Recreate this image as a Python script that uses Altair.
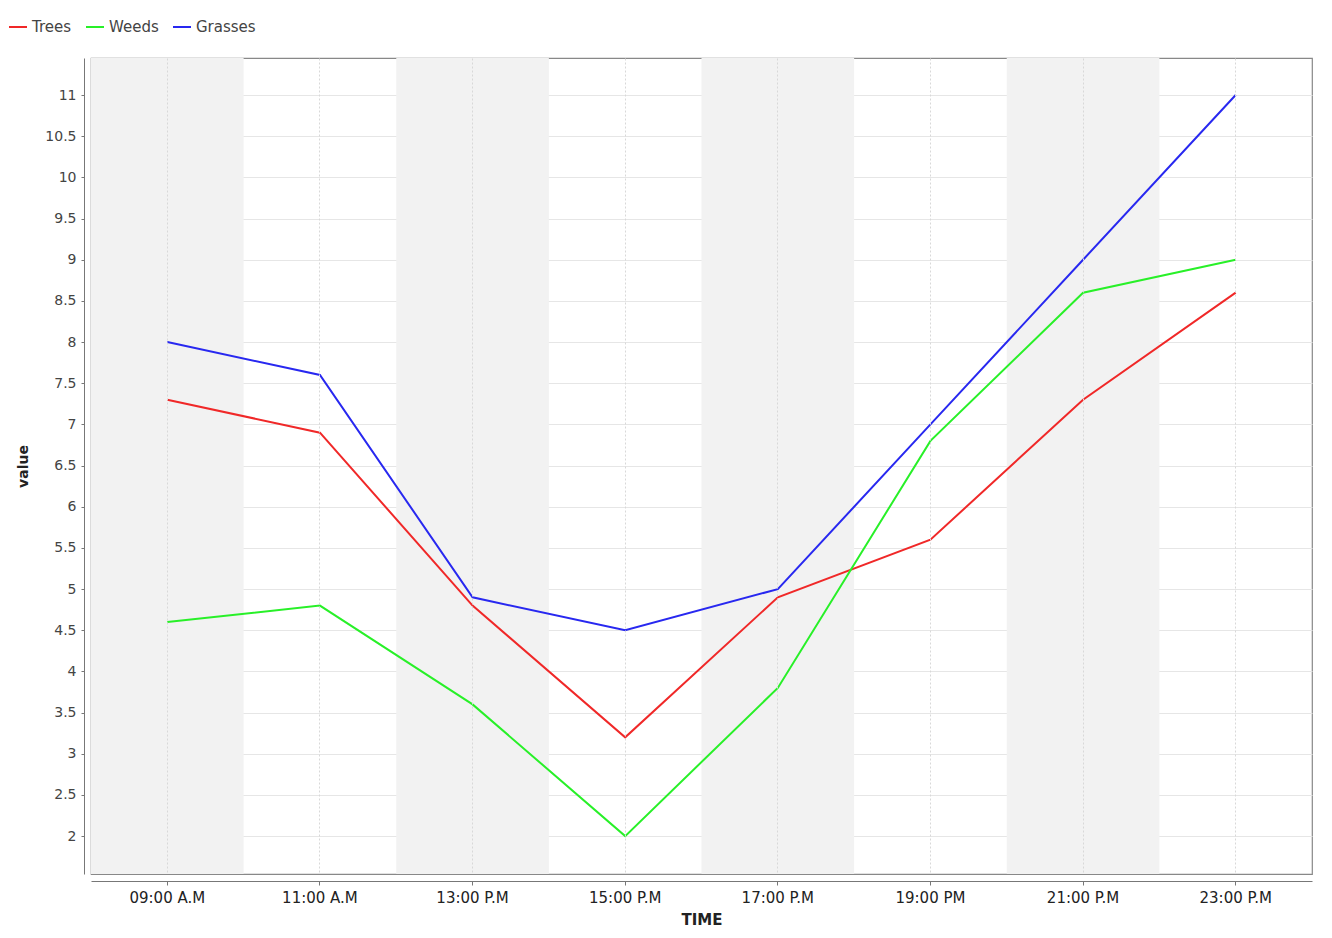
import altair as alt
import pandas as pd

times = ["09:00 A.M", "11:00 A.M", "13:00 P.M", "15:00 P.M", "17:00 P.M", "19:00 PM", "21:00 P.M", "23:00 P.M"]
trees = [7.3, 6.9, 4.8, 3.2, 4.9, 5.6, 7.3, 8.6]
weeds = [4.6, 4.8, 3.6, 2.0, 3.8, 6.8, 8.6, 9.0]
grasses = [8.0, 7.6, 4.9, 4.5, 5.0, 7.0, 9.0, 11.0]
series = ["Trees", "Weeds", "Grasses"]
colors = ["#f02828", "#28f028", "#2828f0"]
shaded = [times[i] for i in (0, 2, 4, 6)]

rows = []
for name, vals in zip(series, [trees, weeds, grasses]):
    for t, v in zip(times, vals):
        rows.append({"TIME": t, "value": v, "series": name})
df = pd.DataFrame(rows)
bands = pd.DataFrame({"TIME": shaded})

W, H = 1221, 816
FONT = "DejaVu Sans"

xscale = alt.Scale(domain=times, paddingInner=0, paddingOuter=0)
yscale = alt.Scale(domain=[1.54, 11.45], nice=False, zero=False)

x_axis = alt.Axis(title="TIME", labelAngle=0, labelAlign="center",
                  labelBaseline="top", grid=True, gridDash=[2, 2],
                  gridColor="#d8d8d8", offset=7, tickSize=4,
                  domainColor="#777", tickColor="#777",
                  labelFontSize=15, labelColor="#222", labelPadding=5,
                  titleFontSize=15, titleFontWeight="bold", titlePadding=7,
                  titleColor="#222")

bg = alt.Chart(bands).mark_rect(color="#f2f2f2").encode(
    x=alt.X("TIME:N", scale=xscale, sort=times, axis=x_axis),
    y=alt.value(0),
    y2=alt.value(H),
)

lines = alt.Chart(df).mark_line(strokeWidth=2, clip=True).encode(
    x=alt.X("TIME:N", scale=xscale, sort=times, axis=x_axis),
    y=alt.Y("value:Q", scale=yscale,
            axis=alt.Axis(title="value", values=[2 + 0.5 * i for i in range(19)],
                          format="~g",
                          grid=True, gridColor="#e6e6e6", offset=7, tickSize=3,
                          domainColor="#777", tickColor="#777",
                          labelFontSize=14, labelColor="#444", labelPadding=5,
                          titleFontSize=14, titleFontWeight="bold", titlePadding=14,
                          titleColor="#222")),
    color=alt.Color("series:N", sort=series,
                    scale=alt.Scale(domain=series, range=colors),
                    legend=alt.Legend(title=None, orient="none", direction="horizontal",
                                      legendX=-83, legendY=-41, symbolType="stroke",
                                      symbolSize=324, symbolStrokeWidth=2,
                                      labelFontSize=15, labelColor="#444",
                                      labelOffset=4, columnPadding=10,
                                      labelFont=FONT)),
)

chart = alt.layer(bg, lines).properties(
    width=W, height=H,
    autosize=alt.AutoSizeParams(type="none"),
    padding={"left": 83, "top": 50, "right": 10, "bottom": 60},
).configure(font=FONT).configure_view(stroke="#888", strokeWidth=1.2)

chart.save("out.html", embed_options={"renderer": "svg", "actions": False})
